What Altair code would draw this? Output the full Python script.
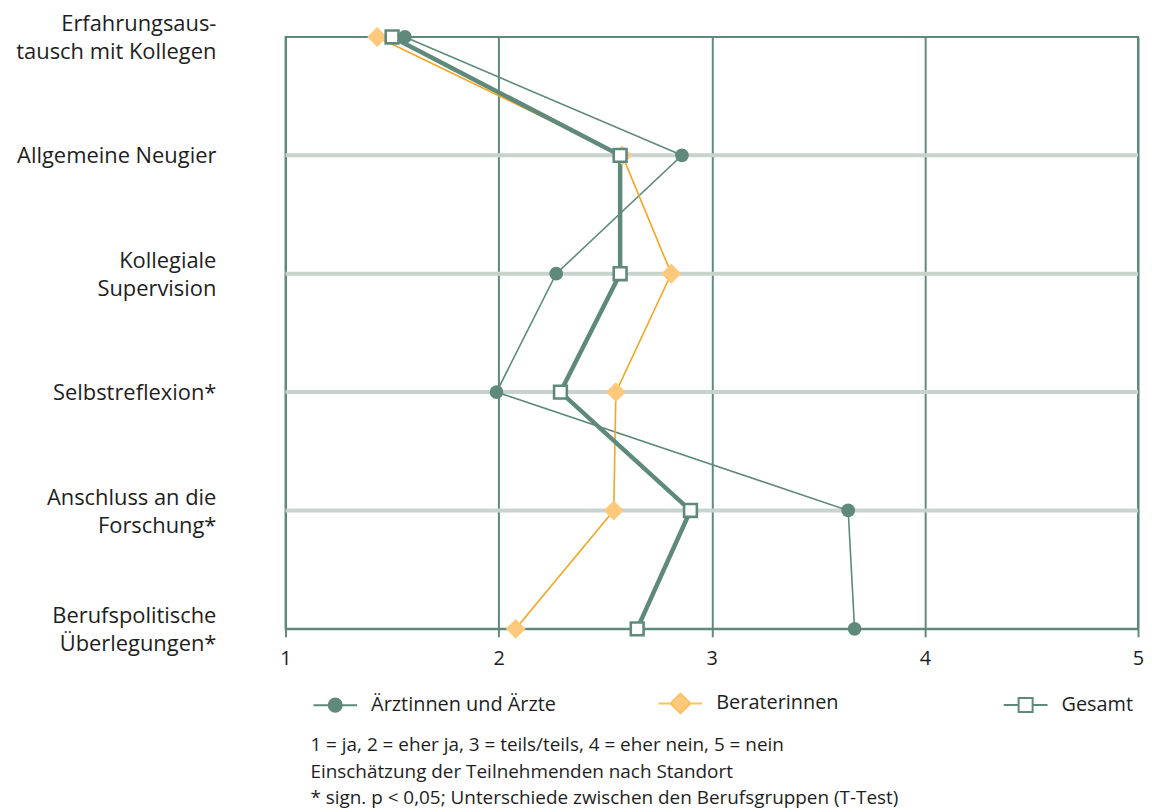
import altair as alt
import pandas as pd

categories = [
    "Erfahrungsaus-\ntausch mit Kollegen",
    "Allgemeine Neugier",
    "Kollegiale\nSupervision",
    "Selbstreflexion*",
    "Anschluss an die\nForschung*",
    "Berufspolitische\nÜberlegungen*",
]
series = ["Ärztinnen und Ärzte", "Beraterinnen", "Gesamt"]
aerzte = [1.56, 2.86, 2.27, 1.99, 3.64, 3.67]
beraterinnen = [1.43, 2.58, 2.81, 2.55, 2.54, 2.08]
gesamt = [1.50, 2.57, 2.57, 2.29, 2.90, 2.65]
x_ticks = [1, 2, 3, 4, 5]
footnotes = [
    "1 = ja, 2 = eher ja, 3 = teils/teils, 4 = eher nein, 5 = nein",
    "Einschätzung der Teilnehmenden nach Standort",
    "* sign. p < 0,05; Unterschiede zwischen den Berufsgruppen (T-Test)",
]

GREEN = "#5f8a7b"
LIGHT = "#c8d3ce"
ORANGE = "#f7a41e"
ORANGE_FILL = "#fec97a"
TEXT = "#1e1e1e"
FONT = "Open Sans"

rows = []
for s, vals in zip(series, [aerzte, beraterinnen, gesamt]):
    for i, (c, v) in enumerate(zip(categories, vals)):
        rows.append({"series": s, "kategorie": c, "wert": v, "idx": i})
df = pd.DataFrame(rows)
grid_df = pd.DataFrame({"kategorie": categories[1:-1]})

x_enc = alt.X(
    "wert:Q",
    scale=alt.Scale(domain=[1, 5], nice=False, zero=False),
    axis=alt.Axis(
        values=x_ticks, title=None, grid=True, gridColor=GREEN, gridWidth=2,
        domainColor=GREEN, domainWidth=2, tickColor=GREEN, tickWidth=2, tickSize=8,
        labelFont=FONT, labelFontSize=20, labelColor=TEXT, labelPadding=12,
        format="d", labelFlush=False,
    ),
)
y_enc = alt.Y(
    "kategorie:N",
    sort=categories,
    scale=alt.Scale(type="point", padding=0),
    axis=alt.Axis(
        title=None, grid=False, domain=False, ticks=False,
        labelExpr="split(datum.label, '\\n')",
        labelFont=FONT, labelFontSize=22, labelColor=TEXT,
        labelPadding=70, labelLineHeight=28, labelBaseline="middle", labelAlign="right",
        labelLimit=400,
        labelOffset={"condition": {"test": "indexof(datum.value, '\\n') >= 0", "value": -13}, "value": 0},
    ),
)

grid = alt.Chart(grid_df).mark_rule(color=LIGHT, strokeWidth=4).encode(y=y_enc)

line_styles = {
    "Ärztinnen und Ärzte": dict(color=GREEN, strokeWidth=1.6),
    "Beraterinnen": dict(color=ORANGE, strokeWidth=1.6),
    "Gesamt": dict(color=GREEN, strokeWidth=4.5),
}
point_styles = {
    "Ärztinnen und Ärzte": dict(shape="circle", filled=True, fill=GREEN, stroke=GREEN, strokeWidth=0, size=190, opacity=1),
    "Beraterinnen": dict(shape="diamond", filled=True, fill=ORANGE_FILL, stroke=ORANGE_FILL, strokeWidth=0, size=400, opacity=1),
    "Gesamt": dict(shape="square", filled=True, fill="white", stroke=GREEN, strokeWidth=2.6, size=165, opacity=1),
}

layers = [grid]
for s in series:
    layers.append(
        alt.Chart(df).transform_filter(alt.datum.series == s)
        .mark_line(**line_styles[s])
        .encode(x=x_enc, y=y_enc, order=alt.Order("idx:Q"))
    )
for s in series:
    layers.append(
        alt.Chart(df).transform_filter(alt.datum.series == s)
        .mark_point(**point_styles[s])
        .encode(x=x_enc, y=y_enc)
    )

paths = [
    "M-1,0H1M0.3,0A0.3,0.3,0,1,1,-0.3,0A0.3,0.3,0,1,1,0.3,0Z",
    "M-1,0H-0.45M0.45,0H1M-0.45,0L0,-0.45L0.45,0L0,0.45Z",
    "M-1,0H-0.32M0.32,0H1M-0.32,-0.32H0.32V0.32H-0.32Z",
]
leg = alt.Legend(
    title=None, orient="none", legendX=27, legendY=647, direction="horizontal",
    symbolSize=1936, symbolStrokeWidth=2, symbolOpacity=1,
    labelFont=FONT, labelFontSize=20, labelColor=TEXT, labelOffset=13, labelLimit=400,
    columnPadding=98, gridAlign="all",
)
legend_layer = (
    alt.Chart(df).transform_filter("false").mark_point(opacity=1)
    .encode(
        shape=alt.Shape("series:N", scale=alt.Scale(domain=series, range=paths), legend=leg),
        fill=alt.Fill("series:N", scale=alt.Scale(domain=series, range=[GREEN, ORANGE_FILL, "white"]), legend=leg),
        stroke=alt.Stroke("series:N", scale=alt.Scale(domain=series, range=[GREEN, "#fbc064", GREEN]), legend=leg),
    )
)
layers.append(legend_layer)

chart = (
    alt.layer(*layers)
    .properties(
        width=857, height=595,
        padding={"left": 7, "top": 3, "right": 0, "bottom": 0},
        title=alt.TitleParams(
            text=footnotes, orient="bottom", anchor="start", frame="group",
            dx=25, offset=19, font=FONT, fontSize=19, fontWeight="normal",
            color=TEXT, lineHeight=26.5,
        ),
    )
    .configure_view(stroke=GREEN, strokeWidth=2)
)

chart.save("out.html", embed_options={"renderer": "svg", "actions": False})
